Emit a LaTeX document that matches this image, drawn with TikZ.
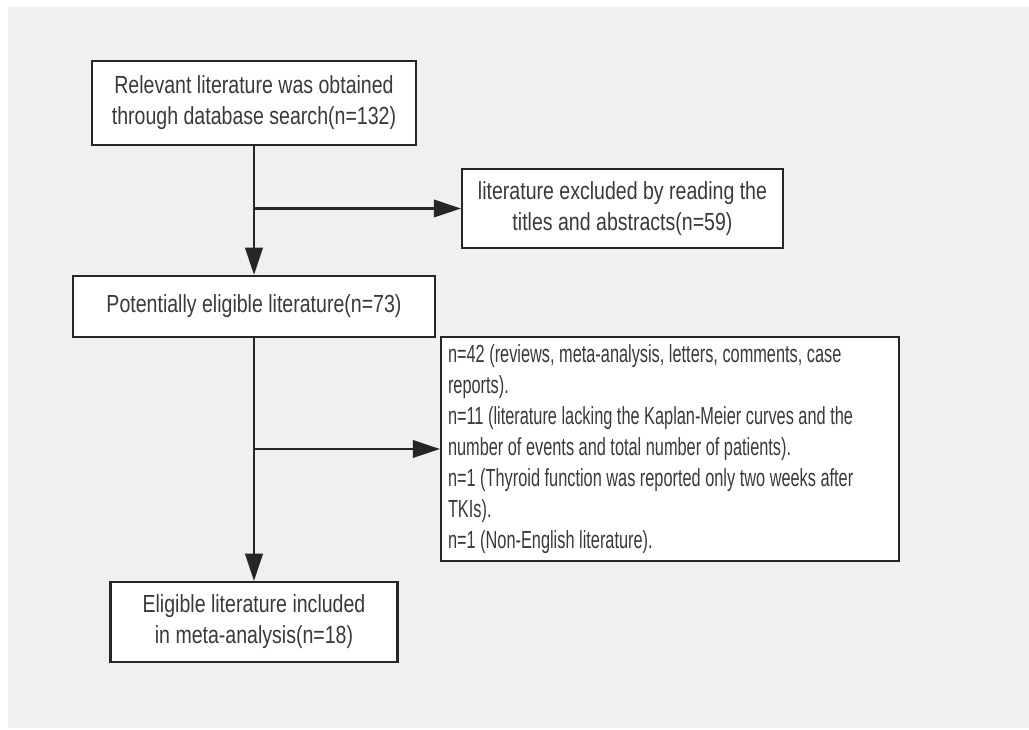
\documentclass[tikz,border=0pt]{standalone}
\usepackage{fontspec}
\setmainfont[FakeStretch=0.79]{Liberation Sans}
\newfontfamily\narrowfont[FakeStretch=0.66]{Liberation Sans}
\usetikzlibrary{arrows.meta}
\hyphenpenalty=10000
\definecolor{bggray}{HTML}{F0F0F0}
\definecolor{linegray}{HTML}{262626}
\definecolor{textgray}{HTML}{3A3A3A}
\tikzset{
  box/.style={draw=linegray, line width=1.5pt, fill=white, text=textgray, align=center,
    font=\fontsize{17.6}{22}\selectfont, inner sep=0pt,
    execute at begin node={\spaceskip=3.87pt plus 1pt minus 1pt\relax}},
  arr/.style={draw=linegray, line width=1.5pt, -{Triangle[length=0.68cm, width=0.44cm]}}
}
\begin{document}
\begin{tikzpicture}
  \useasboundingbox (0,0) rectangle (25.725,18.25);
  \fill[bggray] (0.2,0.05) rectangle (25.725,18.075);
  % boxes
  \node[box, minimum width=8.1cm, minimum height=2.1cm] (search) at (6.35,15.675)
    {Relevant literature was obtained\\through database search(n=132)};
  \node[box, minimum width=8.025cm, minimum height=1.975cm] (excl) at (15.5625,13.0375)
    {literature excluded by reading the\\titles and abstracts(n=59)};
  \node[box, minimum width=9.05cm, minimum height=1.525cm] (eligible) at (6.35,10.59)
    {Potentially eligible literature(n=73)};
  \node[box, minimum width=11.45cm, minimum height=5.6cm, text width=11.1cm, inner xsep=0.175cm,
    align=left, font=\narrowfont\fontsize{17.6}{22}\selectfont,
    execute at begin node={\spaceskip=3.23pt plus 1pt minus 1pt\relax}] (reasons) at (16.75,7.025)
    {n=42 (reviews, meta-analysis, letters, comments, case\\reports).\\
     n=11 (literature lacking the Kaplan-Meier curves and the\\number of events and total number of patients).\\
     n=1 (Thyroid function was reported only two weeks after\\TKIs).\\
     n=1 (Non-English literature).};
  \node[box, minimum width=7.175cm, minimum height=2cm] (included) at (6.35,2.7)
    {Eligible literature included\\in meta-analysis(n=18)};
  % connectors
  \draw[arr] (search) -- (eligible);
  \draw[arr] (search.south |- excl.west) -- (excl);
  \draw[arr] (eligible) -- (included);
  \draw[arr] (eligible.south |- reasons.west) -- (reasons);
\end{tikzpicture}
\end{document}
